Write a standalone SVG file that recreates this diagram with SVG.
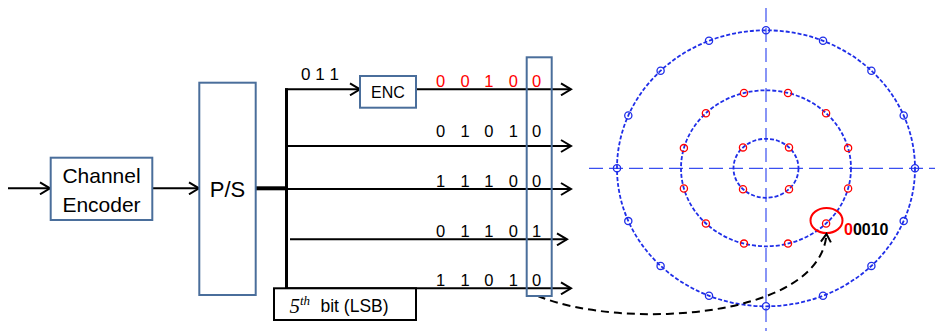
<svg xmlns="http://www.w3.org/2000/svg" width="935" height="331" viewBox="0 0 935 331">
<style>
.box{fill:#fff;stroke:#4A6E9B;stroke-width:2}
.t{font-family:"Liberation Sans",Arial,sans-serif;fill:#000}
.ln{stroke:#000;stroke-width:2;fill:none}
.ring{fill:none;stroke:#1f2ee8;stroke-width:1.8;stroke-dasharray:4 2}
.axis{stroke:#3a4ff0;stroke-width:1.2;stroke-dasharray:14 6}
.pb{fill:none;stroke:#1f2ee8;stroke-width:1.3}
.pr{fill:none;stroke:#f00;stroke-width:1.3}
</style>
<defs>
<marker id="ah" markerUnits="userSpaceOnUse" markerWidth="14" markerHeight="14" refX="11" refY="7" orient="auto">
<path d="M1,1 L11,7 L1,13" fill="none" stroke="#000" stroke-width="2"/>
</marker>
<marker id="ah2" markerUnits="userSpaceOnUse" markerWidth="14" markerHeight="14" refX="9" refY="6" orient="auto">
<path d="M1,1 L9,6 L1,11" fill="none" stroke="#000" stroke-width="2"/>
</marker>
</defs>

<g id="constellation">
<line class="axis" x1="766" y1="8" x2="766" y2="331"/>
<line class="axis" x1="589" y1="168.3" x2="935" y2="168.3"/>
<ellipse class="ring" cx="766" cy="168.3" rx="149" ry="138"/>
<ellipse class="ring" cx="766" cy="168.3" rx="85" ry="78"/>
<ellipse class="ring" cx="766" cy="168.3" rx="32.5" ry="29.5"/>
<g class="pb">
<circle cx="915" cy="168.3" r="3.6"/><circle cx="617" cy="168.3" r="3.6"/>
<circle cx="766" cy="30.3" r="3.6"/><circle cx="766" cy="306.3" r="3.6"/>
<circle cx="903.7" cy="115.5" r="3.6"/><circle cx="903.7" cy="221.1" r="3.6"/>
<circle cx="628.3" cy="115.5" r="3.6"/><circle cx="628.3" cy="221.1" r="3.6"/>
<circle cx="871.4" cy="70.7" r="3.6"/><circle cx="871.4" cy="265.9" r="3.6"/>
<circle cx="660.6" cy="70.7" r="3.6"/><circle cx="660.6" cy="265.9" r="3.6"/>
<circle cx="823" cy="40.8" r="3.6"/><circle cx="823" cy="295.8" r="3.6"/>
<circle cx="709" cy="40.8" r="3.6"/><circle cx="709" cy="295.8" r="3.6"/>
</g>
<g class="pr">
<circle cx="848.1" cy="148.1" r="3.6"/><circle cx="848.1" cy="188.5" r="3.6"/>
<circle cx="683.9" cy="148.1" r="3.6"/><circle cx="683.9" cy="188.5" r="3.6"/>
<circle cx="826.1" cy="113.2" r="3.6"/><circle cx="826.1" cy="223.5" r="3.6"/>
<circle cx="705.9" cy="113.2" r="3.6"/><circle cx="705.9" cy="223.5" r="3.6"/>
<circle cx="788" cy="93" r="3.6"/><circle cx="788" cy="243.6" r="3.6"/>
<circle cx="744" cy="93" r="3.6"/><circle cx="744" cy="243.6" r="3.6"/>
<circle cx="789" cy="147.4" r="3.6"/><circle cx="789" cy="189.2" r="3.6"/>
<circle cx="743" cy="147.4" r="3.6"/><circle cx="743" cy="189.2" r="3.6"/>
</g>
<ellipse cx="826.5" cy="220.5" rx="16" ry="12.5" fill="none" stroke="#f00" stroke-width="2"/>
<text class="t" x="844" y="235" font-size="16" font-weight="bold"><tspan fill="#f00">0</tspan>0010</text>
</g>

<g id="connectors">
<line class="ln" x1="8" y1="188.3" x2="50" y2="188.3" marker-end="url(#ah)"/>
<line class="ln" x1="152" y1="188.3" x2="199" y2="188.3" marker-end="url(#ah)"/>
<line x1="256" y1="188.3" x2="287" y2="188.3" stroke="#000" stroke-width="4"/>
<line x1="286.5" y1="88.3" x2="286.5" y2="289" stroke="#000" stroke-width="3"/>
<line class="ln" x1="285" y1="89.3" x2="360" y2="89.3" marker-end="url(#ah)"/>
<line class="ln" x1="416" y1="89.3" x2="571" y2="89.3" marker-end="url(#ah)"/>
<line class="ln" x1="286" y1="146" x2="571" y2="146" marker-end="url(#ah)"/>
<line class="ln" x1="286" y1="189" x2="571" y2="189" marker-end="url(#ah)"/>
<line class="ln" x1="290" y1="239.3" x2="567" y2="239.3" marker-end="url(#ah)"/>
<line class="ln" x1="286" y1="288.3" x2="571" y2="288.3" marker-end="url(#ah)"/>
<path d="M538,296 C620,330 820,320 826.5,234" fill="none" stroke="#000" stroke-width="2" stroke-dasharray="8 5" marker-end="url(#ah2)"/>
</g>

<g id="channel-encoder">
<rect class="box" x="50.7" y="157.7" width="101.6" height="62.3"/>
<text class="t" x="101.5" y="183.3" font-size="21" text-anchor="middle">Channel</text>
<text class="t" x="101.5" y="211.7" font-size="21" text-anchor="middle">Encoder</text>
</g>

<g id="ps">
<rect class="box" x="199.3" y="82.7" width="56.4" height="212.3"/>
<text class="t" x="227.5" y="197.3" font-size="22" text-anchor="middle">P/S</text>
</g>

<g id="enc">
<rect class="box" x="360" y="76" width="56" height="31.7"/>
<text class="t" x="388" y="97.5" font-size="16" text-anchor="middle">ENC</text>
<text class="t" x="320" y="80" font-size="17" text-anchor="middle">0 1 1</text>
</g>

<g id="bits">
<text class="t" x="440.7 465 488.8 513.3 536.7" y="86.7" font-size="16.5" text-anchor="middle" style="fill:#f00">00100</text>
<text class="t" x="440.7 465 488.8 513.3 536.7" y="136.7" font-size="16.5" text-anchor="middle">01010</text>
<text class="t" x="440.7 465 488.8 513.3 536.7" y="186.7" font-size="16.5" text-anchor="middle">11100</text>
<text class="t" x="440.7 465 488.8 513.3 536.7" y="236.7" font-size="16.5" text-anchor="middle">01101</text>
<text class="t" x="440.7 465 488.8 513.3 536.7" y="286" font-size="16.5" text-anchor="middle">11010</text>
</g>

<g id="bit-column">
<rect x="526.7" y="57.3" width="25" height="238.7" fill="none" stroke="#4A6E9B" stroke-width="2"/>
</g>

<g id="lsb-label">
<rect x="274" y="288.3" width="142" height="31.7" fill="#fff" stroke="#000" stroke-width="2"/>
<text x="289.5" y="312.5" font-family="'Liberation Serif','Times New Roman',serif" font-style="italic" font-size="21">5<tspan font-size="13" dy="-8">th</tspan></text>
<text class="t" x="320.5" y="311.7" font-size="17.5">bit (LSB)</text>
</g>
</svg>
